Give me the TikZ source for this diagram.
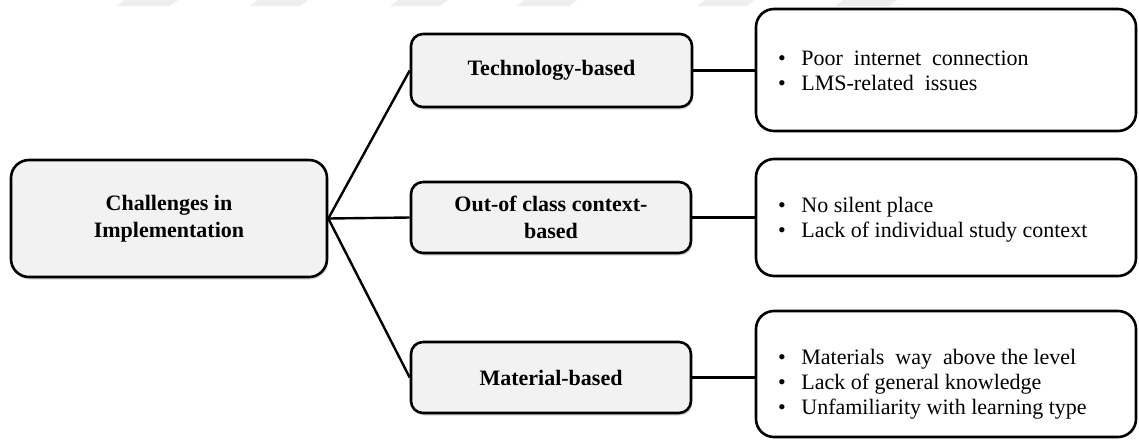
\documentclass[tikz,border=0pt]{standalone}
\usepackage{fontspec}
\setmainfont{Liberation Serif}
\usetikzlibrary{shadows}
\definecolor{boxgray}{HTML}{F2F2F2}
\definecolor{markgray}{HTML}{EEEEEE}
\begin{document}
\begin{tikzpicture}[x=1pt,y=-1pt,
  catbox/.style={draw=black, line width=2.6pt, fill=boxgray, rounded corners=12pt,
    font=\fontsize{22}{27.5}\selectfont\bfseries, align=center, inner sep=0pt,
    drop shadow={shadow xshift=1.2pt, shadow yshift=-2.5pt, opacity=0.3}},
  listbox/.style={draw=black, line width=2.6pt, fill=white, rounded corners=18pt, inner sep=0pt},
  listtext/.style={font=\fontsize{22}{25}\selectfont, inner sep=0pt, anchor=base west},
  link/.style={draw=black, line width=2.4pt}
]
\useasboundingbox (0,0) rectangle (1139,440);
\fill[white] (0,0) rectangle (1139,440);

% faint band of marks along the top edge
\foreach \a/\b in {117/170, 250/300, 390/440, 517/569, 697/747, 835/889}
  \fill[markgray] (\a,6) -- (\b,6) -- (\b+8,0) -- (\a+8,0) -- cycle;

% root
\node[catbox, rounded corners=18pt, minimum width=316pt, minimum height=117pt] (root) at (169,218.5)
  {Challenges in\\Implementation};

% categories
\node[catbox, minimum width=281pt, minimum height=73pt] (tech) at (551.5,70.5) {Technology-based};
\node[catbox, minimum width=280pt, minimum height=71pt] (ctx) at (551,217.5) {Out-of class context-\\based};
\node[catbox, minimum width=280pt, minimum height=71pt] (mat) at (551,377.5) {Material-based};

% detail boxes
\node[listbox, minimum width=380pt, minimum height=122pt] (d1) at (946,70) {};
\node[listbox, minimum width=380pt, minimum height=117pt] (d2) at (946,217.5) {};
\node[listbox, minimum width=380pt, minimum height=126pt] (d3) at (946,374) {};

\node[listtext] (t1) at (778,65) {\begin{tabular}[t]{@{}l@{\hspace{15.5pt}}l@{}}
  \textbullet & Poor\ \ internet\ \ connection\\
  \textbullet & LMS-related\ \ issues
\end{tabular}};
\node[listtext] (t2) at (778,212.5) {\begin{tabular}[t]{@{}l@{\hspace{15.5pt}}l@{}}
  \textbullet & No silent place\\
  \textbullet & Lack of individual study context
\end{tabular}};
\node[listtext] (t3) at (778,364) {\begin{tabular}[t]{@{}l@{\hspace{15.5pt}}l@{}}
  \textbullet & Materials\ \ way\ \ above the level\\
  \textbullet & Lack of general knowledge\\
  \textbullet & Unfamiliarity with learning type
\end{tabular}};

% connectors
\draw[link] (root.east) -- (tech.west);
\draw[link] (root.east) -- (ctx.west);
\draw[link] (root.east) -- (mat.west);
\draw[link] (tech.east) -- (tech.east -| d1.west);
\draw[link] (ctx.east) -- (ctx.east -| d2.west);
\draw[link] (mat.east) -- (mat.east -| d3.west);
\end{tikzpicture}
\end{document}
